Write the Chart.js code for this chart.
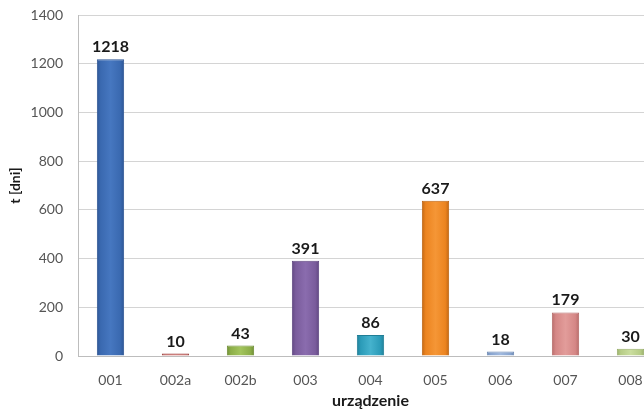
<!DOCTYPE html>
<html>
<head>
<meta charset="utf-8">
<script src="https://cdn.jsdelivr.net/npm/chart.js@4/dist/chart.umd.min.js"></script>
<style>
  html, body { margin: 0; padding: 0; background: #fff; overflow: hidden; }
  #wrap { width: 664px; height: 416px; }
</style>
</head>
<body>
<div id="wrap"><canvas id="c" width="664" height="416"></canvas></div>
<script>
// Device downtime per unit
const devices = ['001', '002a', '002b', '003', '004', '005', '006', '007', '008'];
const days = [1218, 10, 43, 391, 86, 637, 18, 179, 30];
const yTicks = [0, 200, 400, 600, 800, 1000, 1200, 1400];

// base / light / border colour for each bar
const barBase = ['#3a69b0', '#c0504d', '#8cae48', '#7a5c9c', '#2b9bb8', '#ec8420', '#88a4cf', '#d58786', '#b6cc86'];
const barLight = ['#4677c0', '#cd6360', '#a2c45c', '#8a6cae', '#45b2cd', '#f59636', '#a0b9de', '#e29c9a', '#cadd9e'];
const barEdge = ['#2c5493', '#9a3e3b', '#6e8d35', '#5f4680', '#207e96', '#bd6412', '#6d89b3', '#b56a68', '#98ae6a'];

function barFill(ctx) {
  const chart = ctx.chart;
  const i = ctx.dataIndex;
  if (!chart.chartArea || i === undefined) return barBase[i] || '#888';
  const xs = chart.scales.x;
  const cx = xs.getPixelForValue(i);
  const half = 14;
  const g = chart.ctx.createLinearGradient(cx - half, 0, cx + half, 0);
  g.addColorStop(0, barEdge[i]);
  g.addColorStop(0.15, barBase[i]);
  g.addColorStop(0.5, barLight[i]);
  g.addColorStop(0.85, barBase[i]);
  g.addColorStop(1, barEdge[i]);
  return g;
}

// value labels above each bar
const valueLabels = {
  id: 'valueLabels',
  afterDatasetsDraw(chart) {
    const ctx = chart.ctx;
    const meta = chart.getDatasetMeta(0);
    ctx.save();
    ctx.font = 'bold 16px Lato, "Open Sans", sans-serif';
    ctx.fillStyle = '#1a1a1a';
    ctx.textAlign = 'center';
    ctx.textBaseline = 'alphabetic';
    meta.data.forEach((bar, i) => {
      ctx.fillText(String(days[i]), bar.x, bar.y - 7);
    });
    ctx.restore();
  }
};

new Chart(document.getElementById('c'), {
  type: 'bar',
  data: {
    labels: devices,
    datasets: [{
      data: days,
      backgroundColor: barFill,
      borderColor: barEdge,
      borderWidth: 1,
      borderSkipped: 'bottom',
      barPercentage: 0.42,
      categoryPercentage: 1.0
    }]
  },
  options: {
    responsive: false,
    animation: false,
    devicePixelRatio: 1,
    layout: { padding: { top: 15, right: 1, left: 0, bottom: 6 } },
    plugins: {
      legend: { display: false },
      tooltip: { enabled: false }
    },
    scales: {
      y: {
        min: 0,
        max: 1400,
        afterBuildTicks(scale) { scale.ticks = yTicks.map(v => ({ value: v })); },
        afterFit(scale) {
          scale.width = 78;
          scale.paddingTop = 0;
          scale.paddingBottom = 0;
        },
        ticks: {
          color: '#555',
          font: { family: 'Lato, "Open Sans", sans-serif', size: 14 },
          padding: 15,
          callback: v => String(v)
        },
        grid: { color: '#d4d4d4', lineWidth: 1, drawTicks: false },
        border: { color: '#bdbdbd', width: 1 },
        title: {
          display: true,
          text: 't [dni]',
          color: '#1a1a1a',
          font: { family: 'Lato, "Open Sans", sans-serif', size: 14, weight: 'bold' },
          padding: { top: 7, bottom: 0 }
        }
      },
      x: {
        afterFit(scale) { scale.height = 54; },
        ticks: {
          color: '#555',
          font: { family: 'Lato, "Open Sans", sans-serif', size: 14 },
          padding: 16
        },
        grid: { display: false, drawTicks: false },
        border: { color: '#bdbdbd', width: 1 },
        title: {
          display: true,
          text: 'urządzenie',
          color: '#1a1a1a',
          font: { family: 'Lato, "Open Sans", sans-serif', size: 16, weight: 'bold' },
          padding: { top: 2, bottom: 0 }
        }
      }
    }
  },
  plugins: [valueLabels]
});
</script>
</body>
</html>
